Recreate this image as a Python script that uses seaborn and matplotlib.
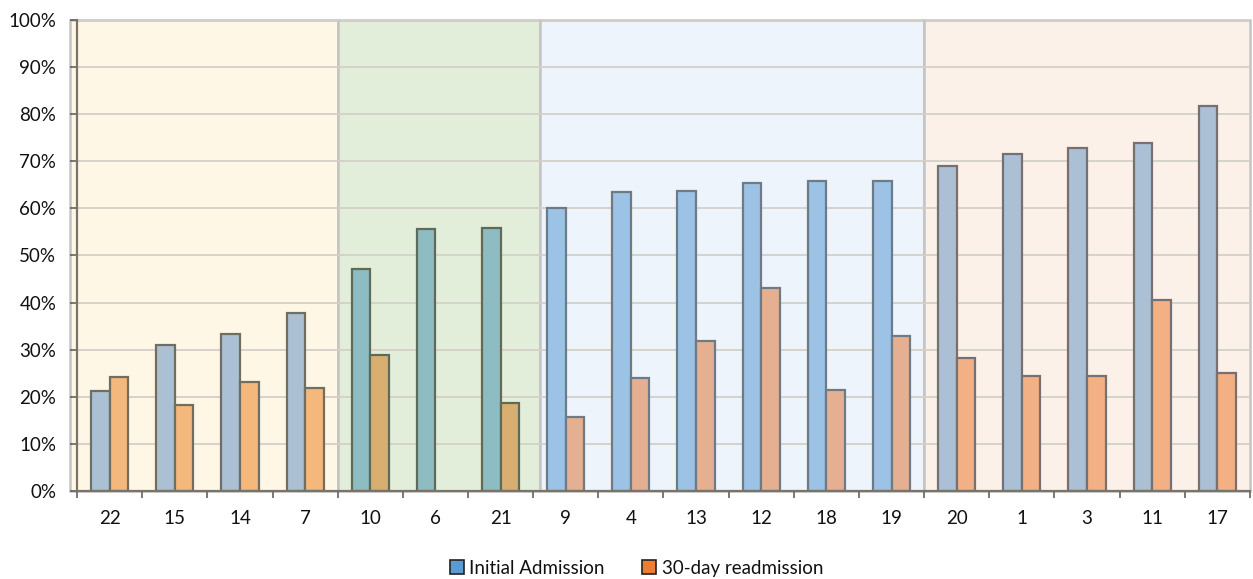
import numpy as np
import pandas as pd
import seaborn as sns
import matplotlib.pyplot as plt
from matplotlib.patches import Patch
from matplotlib.ticker import FixedLocator, PercentFormatter

# Hospital units, ordered by group and by initial-admission rate
units = ["22", "15", "14", "7", "10", "6", "21", "9", "4", "13", "12", "18", "19",
         "20", "1", "3", "11", "17"]
group_sizes = [4, 3, 6, 5]

initial_admission = [21.2, 31.0, 33.3, 37.8, 47.1, 55.6, 55.8, 60.1, 63.5, 63.7,
                     65.4, 65.8, 65.8, 69.0, 71.5, 72.8, 73.9, 81.7]
readmission_30day = [24.2, 18.3, 23.1, 21.9, 28.9, np.nan, 18.7, 15.7, 24.0, 31.8,
                     43.1, 21.4, 32.9, 28.2, 24.4, 24.4, 40.6, 25.1]

series_names = ["Initial Admission", "30-day readmission"]

# Per-group styling: background band, bar fills, bar edge
band_colors = ["#FFF7E6", "#E2EED9", "#EDF4FB", "#FBF1E9"]
initial_colors = ["#ABC1D3", "#8DBCC3", "#9CC2E5", "#ABBFD5"]
readmit_colors = ["#F4B77C", "#D8AF70", "#E4B091", "#F3B084"]
edge_colors = ["#6F6E60", "#5F6B58", "#6E7A85", "#767170"]

df = pd.DataFrame({
    "unit": units * 2,
    "value": initial_admission + readmission_30day,
    "series": [series_names[0]] * len(units) + [series_names[1]] * len(units),
})

sns.set_theme(style="white")
plt.rcParams["font.family"] = ["Lato", "DejaVu Sans"]

fig = plt.figure(figsize=(12.53, 5.79), dpi=100)
ax = fig.add_axes([0.0615, 0.152, 0.936, 0.8135])

# Group background bands (the first one reaches a little left of the axis line)
bounds = np.concatenate([[0], np.cumsum(group_sizes)]) - 0.5
group_of = np.repeat(np.arange(len(group_sizes)), group_sizes)
band_edges = bounds.copy()
band_edges[0] = -0.61
band_edges[2] += 0.1
for g in range(len(group_sizes)):
    ax.axvspan(band_edges[g], band_edges[g + 1], ymin=0, ymax=1.0, facecolor=band_colors[g],
               edgecolor="#C4C4C4", linewidth=1.8, zorder=0, clip_on=False)

sns.barplot(data=df, x="unit", y="value", hue="series", order=units,
            hue_order=series_names, width=0.57, saturation=1, gap=0,
            dodge=True, legend=False, ax=ax, zorder=3)

fills = [initial_colors, readmit_colors]
for s, container in enumerate(ax.containers):
    for bar in container:
        idx = int(round(bar.get_x() + bar.get_width() / 2))
        g = group_of[idx]
        bar.set_facecolor(fills[s][g])
        bar.set_edgecolor(edge_colors[g])
        bar.set_linewidth(1.6)
        bar.set_zorder(3)

ax.set_xlim(-0.5, len(units) - 0.5)
ax.set_ylim(0, 100)
ax.yaxis.set_major_locator(FixedLocator(np.arange(0, 101, 10)))
ax.yaxis.set_major_formatter(PercentFormatter(decimals=0))
ax.grid(axis="y", color="#D3D0C8", linewidth=1.3, zorder=1)
ax.set_axisbelow(False)
for line in ax.get_ygridlines():
    line.set_zorder(1)

ax.set_xlabel("")
ax.set_ylabel("")
ax.tick_params(axis="x", which="major", length=0, labelsize=13.5, pad=14,
               labelcolor="#111111")
ax.xaxis.set_minor_locator(FixedLocator(list(np.arange(-0.5, len(units), 1.0))))
ax.tick_params(axis="x", which="minor", length=5, width=1.1, color="#555555",
               direction="out", bottom=True)
ax.tick_params(axis="y", which="major", length=5, width=1.1, color="#555555",
               direction="out", left=True, labelsize=13.5, labelcolor="#111111", pad=10)

for side in ["top", "right"]:
    ax.spines[side].set_visible(False)
for side in ["left", "bottom"]:
    ax.spines[side].set_color("#7A7468")
    ax.spines[side].set_linewidth(1.6)
    ax.spines[side].set_zorder(4)

handles = [Patch(facecolor="#5B9BD5", edgecolor="#222222", linewidth=1.2),
           Patch(facecolor="#ED7D31", edgecolor="#222222", linewidth=1.2)]
fig.legend(handles, series_names, loc="lower center", bbox_to_anchor=(0.508, -0.025),
           ncol=2, frameon=False, fontsize=13.5, handlelength=0.75,
           handleheight=0.75, handletextpad=0.3, columnspacing=2.0,
           labelcolor="#111111")

fig.savefig("out.png", dpi=100)
